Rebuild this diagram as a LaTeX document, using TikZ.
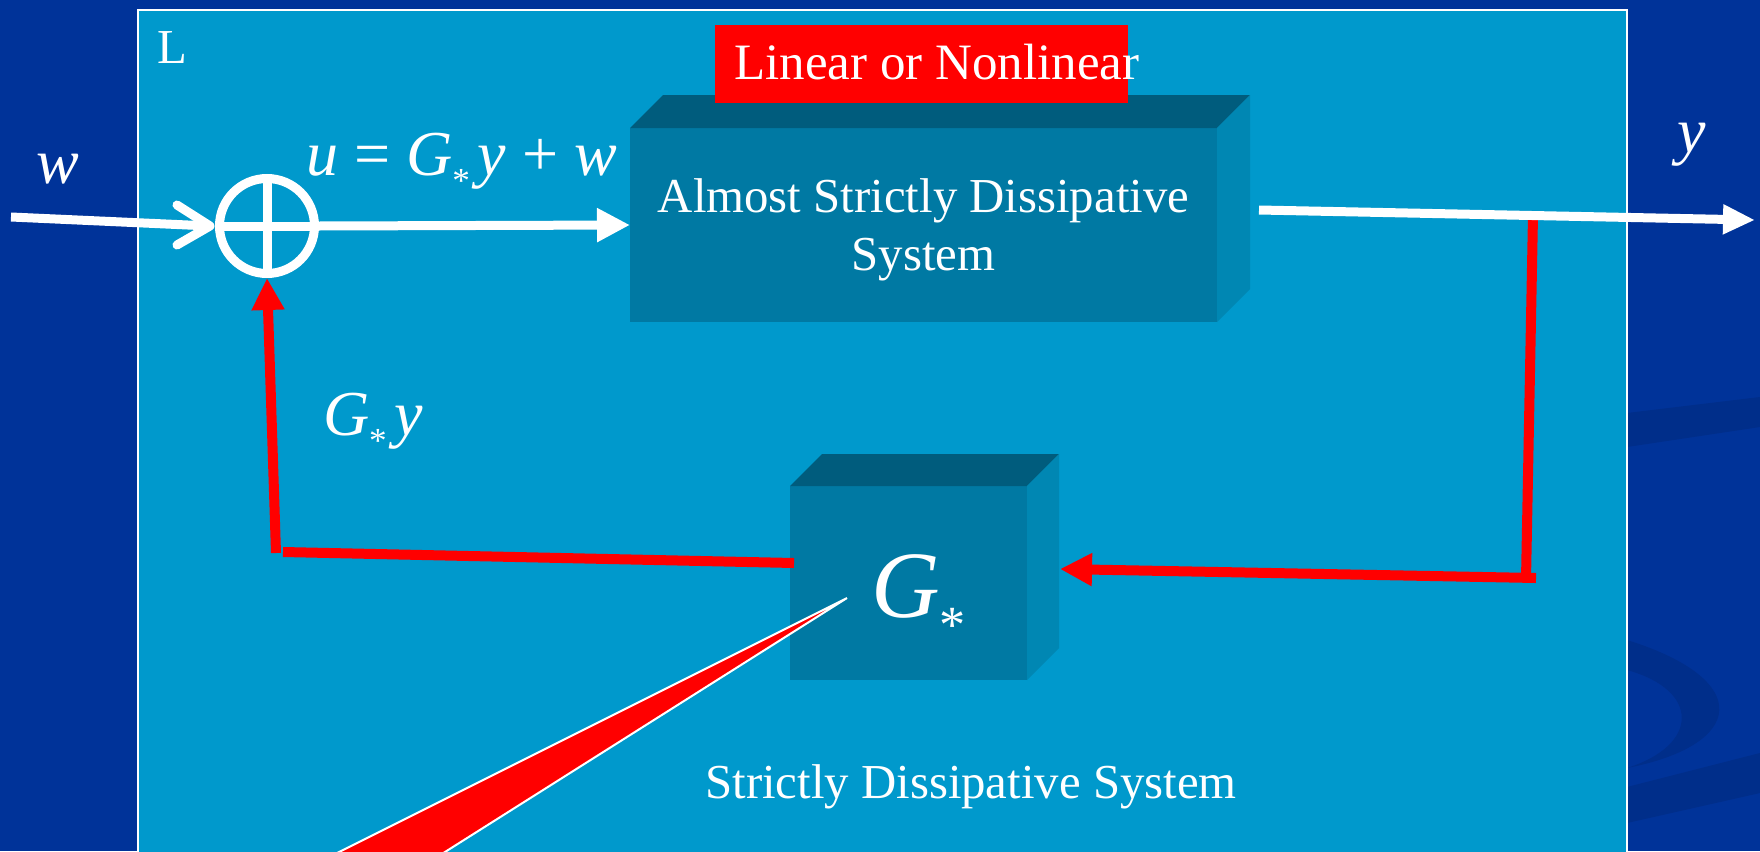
\documentclass[tikz,border=0pt]{standalone}
\usepackage{fontspec}
\setmainfont{Liberation Serif}
\usetikzlibrary{arrows.meta,calc}
\definecolor{bgblue}{HTML}{003399}
\definecolor{bgdark}{HTML}{002E8A}
\definecolor{panel}{HTML}{0099CC}
\definecolor{boxfront}{HTML}{0079A3}
\definecolor{boxtop}{HTML}{005C7D}
\definecolor{boxside}{HTML}{0087B3}
\newcommand{\subast}{\raisebox{-0.27em}{\scalebox{0.55}{*}}}
\newcommand{\Gs}{\textit{G}\subast}
\begin{document}
\begin{tikzpicture}[x=0.5pt,y=-0.5pt,
  wline/.style={draw=white, line width=4.5pt},
  rline/.style={draw=red, line width=5pt},
  rtip/.style={-{Triangle[length=16pt,width=15.5pt]}},
  mathlbl/.style={text=white, font=\fontsize{32}{38}\selectfont, inner sep=0pt, outer sep=0pt},
  garlbl/.style={text=white, font=\fontsize{24.4}{29}\selectfont, inner sep=0pt, outer sep=0pt},
  front/.style={fill=boxfront, draw=none, inner sep=0pt, outer sep=0pt, text=white}]
\useasboundingbox (0,0) rectangle (1760,851);
\clip (0,0) rectangle (1760,851);
% slide background
\fill[bgblue] (0,0) rectangle (1760,851);
\fill[bgdark] (1627,413) -- (1760,397) -- (1760,427) -- (1627,447) -- cycle;
\fill[bgdark] (1627,640) .. controls (1755,680) and (1745,745) .. (1627,768)
   .. controls (1700,745) and (1700,690) .. (1627,670) -- cycle;
\fill[bgdark] (1627,787) -- (1760,753) -- (1760,793) -- (1627,823) -- cycle;
% panel
\draw[white, line width=1pt, fill=panel] (138,10) rectangle (1627,880);
\node[garlbl, anchor=base west] (L) at (157,63) {L};

% boxes
\node[front, garlbl, minimum width=293.5pt, minimum height=97pt, align=center] (asd) at (923.5,225) {\rule{0pt}{21.3pt}Almost Strictly Dissipative\\System};
\fill[boxtop] (asd.north west) -- ++(33,-33) -- ($(asd.north east)+(33,-33)$) -- (asd.north east) -- cycle;
\fill[boxside] (asd.north east) -- ++(33,-33) -- ($(asd.south east)+(33,-33)$) -- (asd.south east) -- cycle;

\node[front, font=\fontsize{47.5}{50}\selectfont, minimum width=118.5pt, minimum height=97pt, text height=36pt, text depth=2pt] (gbox) at (908.5,583) {\hspace*{10pt}\Gs};
\fill[boxtop] (gbox.north west) -- ++(32,-32) -- ($(gbox.north east)+(32,-32)$) -- (gbox.north east) -- cycle;
\fill[boxside] (gbox.north east) -- ++(32,-32) -- ($(gbox.south east)+(32,-32)$) -- (gbox.south east) -- cycle;

% summing junction
\node[circle, draw=white, line width=4.5pt, minimum size=47.5pt, inner sep=0pt] (sum) at (267,226) {};
\draw[white, line width=4.5pt, shorten >=2.25pt, shorten <=2.25pt] (sum.north) -- (sum.south);
\draw[white, line width=4.5pt, shorten >=2.25pt, shorten <=2.25pt] (sum.west) -- (sum.east);

% red feedback path
\coordinate (tap) at (1533,215);
\coordinate (cornerR) at (1526,579);
\coordinate (cornerRh) at (1536,578);
\coordinate (cornerL) at (276,553);
\coordinate (cornerLh) at (283,552);
\draw[rline] (tap) -- (cornerR);
\draw[rline, rtip] (cornerRh) -- ($(gbox.east)+(33,-14)$);
\draw[rline] ($(gbox.west)+(4,-20)$) -- (cornerLh);
\draw[rline, rtip] (cornerL) -- (sum.south);

% white signal path
\coordinate (win) at (11,217);
\coordinate (ystart) at (1259,210);
\coordinate (yend) at (1755,220);
\draw[wline] (win) -- ($(sum.west)+(-5,0)$);
\draw[wline, line cap=round, line join=round] ($(sum.west)+(-38,-21)$) -- ($(sum.west)+(-5,0)$) -- ($(sum.west)+(-38,19)$);
\draw[wline, -{Triangle[length=16.5pt,width=16pt]}] (sum.east) -- (asd.west);
\draw[wline, -{Triangle[length=16pt,width=14pt]}] (ystart) -- (yend);

% labels
\node[mathlbl, anchor=base west] (wlbl) at (36,183) {\textit{w}};
\node[mathlbl, anchor=base west] (ulbl) at (306,175) {\textit{u} = \Gs\hspace{0.12em}\textit{y} + \textit{w}};
\node[mathlbl, anchor=base] (ylbl) at (1692,152) {\textit{y}};
\node[mathlbl, anchor=base west] (gylbl) at (323,435) {\Gs\hspace{0.12em}\textit{y}};
\node[garlbl, anchor=base] (sds) at (971,798) {Strictly Dissipative System};

% red tag
\node[fill=red, minimum width=206.5pt, minimum height=39pt, inner sep=0pt] (linbox) at (921.5,64) {};
\node[text=white, font=\fontsize{25.5}{30}\selectfont, inner sep=0pt, anchor=base west] (lintxt) at (734,79) {Linear or Nonlinear};

% callout pointer
\coordinate (wtip) at (847,598);
\filldraw[fill=red, draw=white, line width=1pt] (wtip) -- (243,900) -- (369,900) -- cycle;
\end{tikzpicture}
\end{document}
